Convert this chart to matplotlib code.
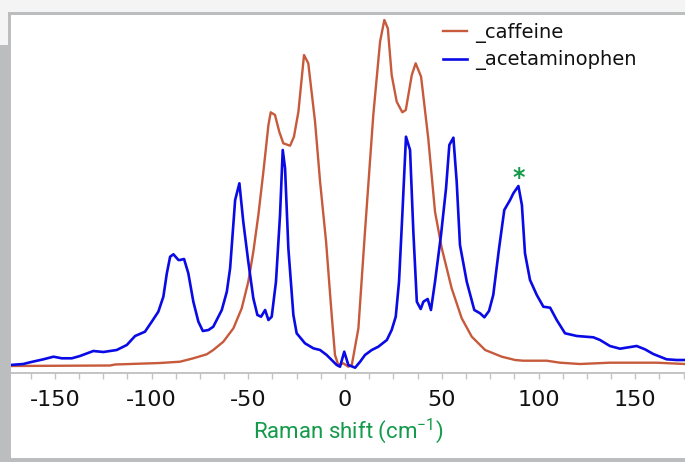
import matplotlib
matplotlib.use("Agg")
import matplotlib.pyplot as plt
from matplotlib.patches import Rectangle
from matplotlib.ticker import MultipleLocator

plt.rcParams["mathtext.fontset"] = "custom"
plt.rcParams["mathtext.rm"] = "Roboto"
plt.rcParams["mathtext.it"] = "Roboto:italic"
plt.rcParams["mathtext.bf"] = "Roboto:bold"

# ---- data ----
caff_x = [-173.1, -121.4, -118.9, -95.6, -85.3, -78.4, -71.5, -68.1, -62.9, -57.7,
          -53.4, -50.0, -47.4, -44.8, -42.2, -39.6, -38.4, -36.2, -34.0, -31.9,
          -28.4, -26.4, -24.1, -21.2, -19.0, -15.5, -12.9, -9.8, -6.9, -5.2,
          -3.5, -0.9, 1.7, 3.5, 6.9, 10.3, 14.6, 18.1, 20.3, 22.1,
          24.1, 26.7, 29.6, 31.4, 34.5, 36.5, 39.3, 43.0, 46.5, 50.0,
          55.1, 60.3, 65.5, 72.4, 81.0, 87.9, 92.1, 104.2, 111.1, 121.4,
          136.9, 161.1, 175.7]
caff_y = [4, 4.5, 5.5, 7, 8.3, 11.7, 15.7, 20, 28.3, 41.7,
          61.7, 88.3, 118.3, 155, 198.3, 245, 257.7, 255, 238.3, 226.7,
          224.3, 233.3, 258.3, 315, 306.7, 248.3, 188.3, 128.3, 55, 15,
          5, 6.7, 3.3, 5, 41.7, 138.3, 255, 328.3, 350, 341.7,
          295, 268.3, 257.7, 260, 295, 306.7, 293.3, 231.7, 158.3, 121.7,
          81.7, 51.7, 33.3, 20, 13.3, 10, 9.3, 9.3, 7.3, 6,
          7.3, 7.3, 6]

acet_x = [-173.1, -166.3, -162.8, -155.9, -150.7, -146.4, -141.2, -137.0, -130.1, -124.9,
          -118.0, -112.8, -108.5, -103.4, -99.9, -96.5, -93.9, -92.1, -90.4, -88.7,
          -86.1, -85.3, -83.2, -81.0, -78.4, -75.8, -73.5, -70.6, -68.1, -63.7,
          -61.1, -59.4, -56.8, -54.6, -52.6, -50.0, -47.4, -45.3, -43.4, -41.3,
          -39.6, -37.9, -35.7, -33.6, -32.2, -31.0, -29.3, -26.7, -25.0, -20.7,
          -16.4, -12.9, -9.5, -4.3, -2.6, -0.4, 1.7, 5.2, 7.8, 10.3,
          13.8, 17.2, 21.6, 24.1, 26.2, 27.9, 29.6, 31.5, 33.6, 35.3,
          37.1, 39.1, 40.5, 42.7, 44.4, 46.5, 49.6, 52.2, 53.9, 56.0,
          57.7, 59.4, 62.9, 66.8, 69.8, 72.0, 74.4, 76.6, 79.6, 82.3,
          85.3, 87.0, 89.6, 91.4, 93.0, 95.6, 99.1, 102.5, 106.0, 109.4,
          113.7, 119.8, 128.3, 131.8, 136.9, 142.1, 150.7, 155.0, 159.3, 166.2,
          171.4, 175.7]
acet_y = [5, 6, 7.7, 10.7, 13.3, 11.7, 11.7, 14, 19, 18,
          20, 25, 34, 38.3, 48.3, 58.3, 73.3, 96.7, 113.3, 115.7,
          110, 110, 111, 96.7, 68.3, 48.3, 39, 40, 43.3, 60,
          78.3, 101.7, 170, 186.7, 148.3, 108.3, 71.7, 55, 53.3, 60,
          50, 53.3, 88.3, 155, 220, 201.7, 121.7, 55, 36.7, 26.7,
          21.7, 20, 15, 5, 3.3, 18.3, 5, 2.3, 8.3, 15,
          20, 23.3, 30, 40, 53.3, 88.3, 155, 233.3, 220, 138.3,
          68.3, 61, 68.3, 71, 60, 88.3, 135, 181.7, 225, 232.3,
          188.3, 125, 88.3, 60, 56.7, 52.7, 59, 75, 121.7, 160,
          170, 176.7, 184, 165, 116.7, 90, 75, 63.3, 62.3, 50,
          36.7, 34, 32.7, 30, 24, 21.3, 24, 20.7, 16, 10.7,
          10, 10]

series_labels = ["_caffeine", "_acetaminophen"]
xtick_values = [-150, -100, -50, 0, 50, 100, 150]
xlabel_text = "Raman shift (cm$^{-1}$)"
marker_x, marker_y = 89.6, 192

W, H = 685, 462
fig = plt.figure(figsize=(W / 100, H / 100), dpi=100)
fig.patch.set_facecolor("#f4f4f4")

# frame of the panel
fig.add_artist(Rectangle((9 / W, 0), 676 / W, 1 - 14 / H, transform=fig.transFigure,
                         facecolor="white", edgecolor="none", zorder=0))
fig.add_artist(Rectangle((8 / W, 1 - 15 / H), 677 / W, 2.5 / H, transform=fig.transFigure,
                         facecolor="#bcbdbf", edgecolor="none", zorder=1))
fig.add_artist(Rectangle((8 / W, 1 - 45 / H), 2.5 / W, 31 / H, transform=fig.transFigure,
                         facecolor="#bcbdbf", edgecolor="none", zorder=1))
fig.add_artist(Rectangle((0, 0), 10.5 / W, 1 - 45 / H, transform=fig.transFigure,
                         facecolor="#bcbdbf", edgecolor="none", zorder=1))
fig.add_artist(Rectangle((0, 0), 1, 4.5 / H, transform=fig.transFigure,
                         facecolor="#bcbdbf", edgecolor="none", zorder=1))

ax = fig.add_axes([10.5 / W, (H - 373) / H, (W - 10.5) / W, (373 - 16) / H])
ax.set_facecolor("none")
l1, = ax.plot(caff_x, caff_y, color="#c65a3b", lw=1.7)
l2, = ax.plot(acet_x, acet_y, color="#0a0ae6", lw=1.9)

ax.set_xlim(-172.9, 175.7)
ax.set_ylim(-3, 354)

for s in ["top", "right", "left"]:
    ax.spines[s].set_visible(False)
ax.spines["bottom"].set_color("#c4c4c4")
ax.spines["bottom"].set_linewidth(1.4)
ax.set_yticks([])
ax.set_xticks(xtick_values)
ax.xaxis.set_minor_locator(MultipleLocator(12.5))
ax.tick_params(axis="x", which="both", length=4, width=1, color="#c4c4c4",
               labelsize=16, pad=8, labelcolor="#111111")
ax.set_xticklabels([str(v) for v in xtick_values], family="DejaVu Sans")

ax.set_xlabel(xlabel_text, family="Roboto", fontsize=16, color="#139a4a", labelpad=5)

ax.text(marker_x, marker_y, "*", color="#139a4a", fontsize=17, ha="center", va="center",
        family="DejaVu Sans", fontweight="bold")

# labels starting with "_" are skipped by legend(), so set the text afterwards
leg = ax.legend([l1, l2], ["caffeine", "acetaminophen"], loc="upper left",
                bbox_to_anchor=(443 / W, 1 - 23 / H),
                bbox_transform=fig.transFigure, frameon=False, fontsize=14,
                handlelength=1.25, handletextpad=0.4, labelspacing=0.38,
                borderpad=0, borderaxespad=0)
for t, lab in zip(leg.get_texts(), series_labels):
    t.set_text(lab)
    t.set_color("#111111")

fig.savefig("out.png", dpi=100, facecolor=fig.get_facecolor())
